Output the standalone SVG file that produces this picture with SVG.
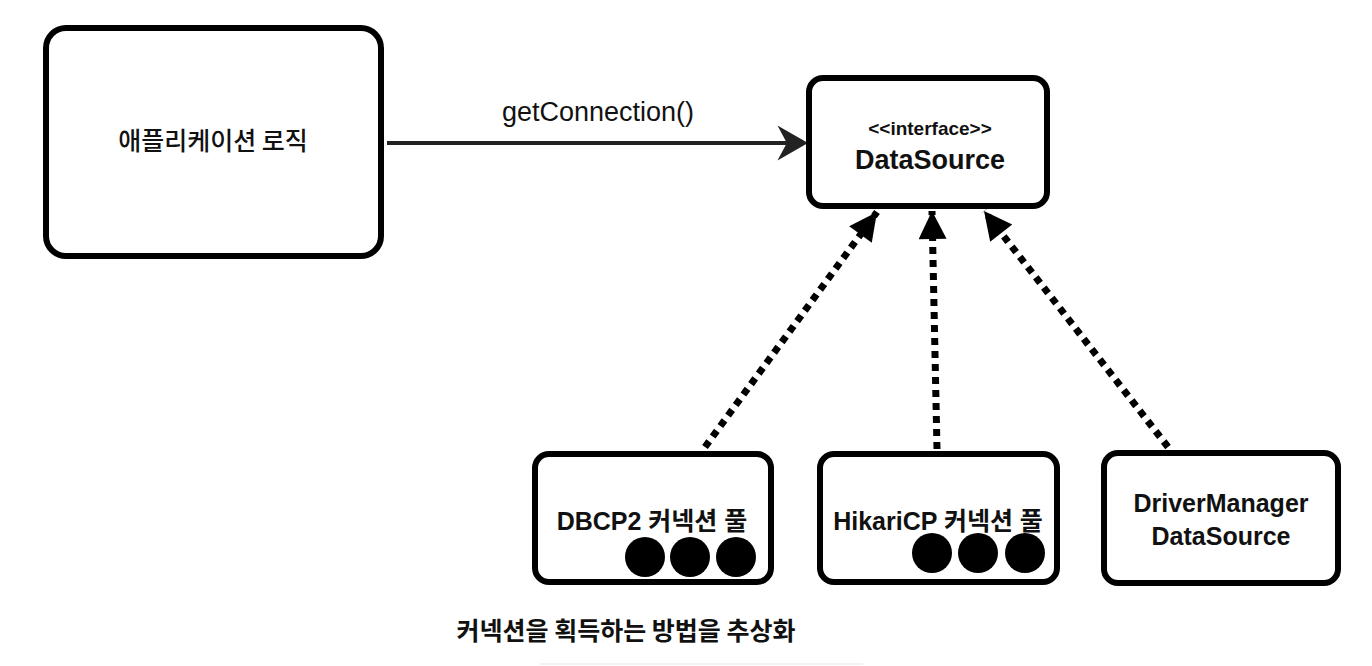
<svg xmlns="http://www.w3.org/2000/svg" width="1372" height="666" viewBox="0 0 1372 666">
<style>
.box{fill:#fff;stroke:#000;stroke-width:6}
.t{font-family:"Liberation Sans","Noto Sans CJK KR",sans-serif;font-weight:bold;fill:#111;text-anchor:middle}
.k{font-family:"Noto Sans CJK KR","Liberation Sans",sans-serif;font-weight:500;fill:#111;text-anchor:middle}
.dot{fill:none;stroke:#000;stroke-width:7;stroke-dasharray:7 6}
</style>
<defs>
<marker id="tri" viewBox="0 0 10 10" refX="10" refY="5" markerWidth="4.3" markerHeight="4" markerUnits="strokeWidth" orient="auto">
<path d="M0,0 L10,5 L0,10 Z" fill="#000"/>
</marker>
</defs>
<rect x="540" y="663" width="323" height="2" fill="#f2f2f2"/>
<g id="connectors">
<line x1="387" y1="143" x2="790" y2="143" stroke="#222" stroke-width="4"/>
<path d="M780,128 L806,143 L780,158 L788,143 Z" fill="#222" stroke="#222" stroke-width="2"/>
<line class="dot" x1="705" y1="447" x2="877" y2="212" marker-end="url(#tri)"/>
<line class="dot" x1="937" y1="449" x2="932" y2="211" marker-end="url(#tri)"/>
<line class="dot" x1="1168" y1="447" x2="984" y2="211" marker-end="url(#tri)"/>
</g>
<g id="app">
<rect class="box" x="46" y="28" width="335" height="228" rx="20"/>
<text class="k" x="213" y="150" font-size="25">애플리케이션 로직</text>
</g>
<text x="598" y="121" font-size="27" font-family="Liberation Sans, sans-serif" fill="#111" text-anchor="middle">getConnection()</text>
<g id="datasource">
<rect class="box" x="809" y="78" width="238" height="128" rx="14"/>
<text class="t" x="930" y="135" font-size="19">&lt;&lt;interface&gt;&gt;</text>
<text class="t" x="930" y="169" font-size="27">DataSource</text>
</g>
<g id="dbcp2">
<rect class="box" x="535" y="454" width="236" height="128" rx="14"/>
<text class="t" x="652" y="530" font-size="25">DBCP2 커넥션 풀</text>
<circle cx="645" cy="557" r="20"/>
<circle cx="690" cy="557" r="20"/>
<circle cx="736" cy="557" r="20"/>
</g>
<g id="hikari">
<rect class="box" x="820" y="454" width="237" height="128" rx="14"/>
<text class="t" x="938" y="530" font-size="25">HikariCP 커넥션 풀</text>
<circle cx="932" cy="553" r="20"/>
<circle cx="978" cy="553" r="20"/>
<circle cx="1025" cy="553" r="20"/>
</g>
<g id="drivermanager">
<rect class="box" x="1104" y="453" width="234" height="130" rx="14"/>
<text class="t" x="1221" y="512" font-size="25">DriverManager</text>
<text class="t" x="1221" y="545" font-size="25">DataSource</text>
</g>
<text class="k" x="626" y="640" font-size="25" style="font-weight:700">커넥션을 획득하는 방법을 추상화</text>
</svg>
